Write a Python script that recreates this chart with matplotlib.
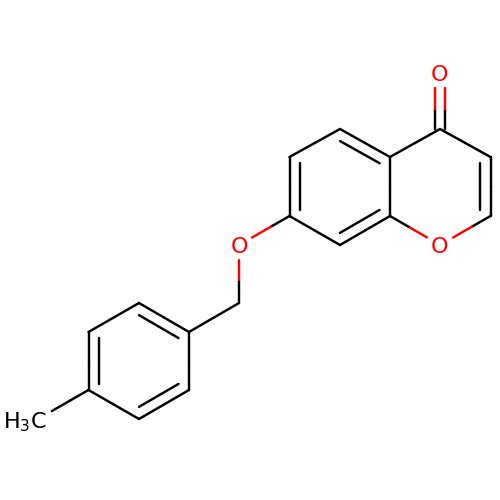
import numpy as np
import matplotlib
matplotlib.use('Agg')
import matplotlib.pyplot as plt

# atom positions
names = ['C4', 'O4', 'C3', 'C2', 'O1', 'C8a', 'C4a', 'C5', 'C6', 'C7', 'C8',
         'O7', 'CH2', 'C1p', 'C2p', 'C3p', 'C4p', 'C5p', 'C6p', 'Me']
atom_x = [440, 440, 490.5, 490.5, 440, 390, 390, 340, 289.5, 289.5, 340,
          239, 239, 189, 139, 88.5, 88.5, 139, 189, 38]
atom_y = [129, 73, 157, 216, 245, 216, 157, 129, 157, 216, 245,
          245, 303, 332, 303, 332, 390, 419, 390, 419]

single_bonds = [('C4', 'C3'), ('C2', 'O1'), ('O1', 'C8a'), ('C8a', 'C4a'), ('C4a', 'C4'),
                ('C5', 'C6'), ('C7', 'C8'), ('C7', 'O7'), ('O7', 'CH2'), ('CH2', 'C1p'),
                ('C1p', 'C6p'), ('C2p', 'C3p'), ('C4p', 'C5p'), ('C4p', 'Me')]
# double bonds, with the ring the inner line sits in
ring_a = ['C4', 'C3', 'C2', 'O1', 'C8a', 'C4a']
ring_b = ['C4a', 'C5', 'C6', 'C7', 'C8', 'C8a']
ring_c = ['C1p', 'C2p', 'C3p', 'C4p', 'C5p', 'C6p']
ring_doubles = [('C3', 'C2', ring_a), ('C4a', 'C5', ring_b), ('C6', 'C7', ring_b),
                ('C8', 'C8a', ring_b), ('C1p', 'C2p', ring_c), ('C3p', 'C4p', ring_c),
                ('C5p', 'C6p', ring_c)]
carbonyl = ('C4', 'O4')

pos = {n: np.array([x, y], dtype=float) for n, x, y in zip(names, atom_x, atom_y)}
oxygens = ['O4', 'O1', 'O7']
RED = '#ff0000'
LW = 1.75
GAP_O = 15.0
GAP_ME = 16.0


def seg(ax, p, q, color):
    ax.plot([p[0], q[0]], [p[1], q[1]], color=color, lw=LW, solid_capstyle='round', zorder=2)


def bond(ax, p, q, a, b):
    # trim the end at a labelled atom, then colour each half by its atom
    u = (q - p) / np.linalg.norm(q - p)
    pa, qb = p.copy(), q.copy()
    if a in oxygens:
        pa = p + u * GAP_O
    if b in oxygens:
        qb = q - u * GAP_O
    if b == 'Me':
        qb = q - u * GAP_ME
    mid = (pa + qb) / 2
    seg(ax, pa, mid, RED if a in oxygens else 'black')
    seg(ax, mid, qb, RED if b in oxygens else 'black')


plt.rcParams['mathtext.default'] = 'regular'

fig = plt.figure(figsize=(5, 5), dpi=100)
ax = fig.add_axes([0, 0, 1, 1])
ax.set_xlim(0, 500)
ax.set_ylim(500, 0)
ax.axis('off')

for a, b in single_bonds:
    bond(ax, pos[a], pos[b], a, b)

for a, b, ring in ring_doubles:
    p, q = pos[a], pos[b]
    bond(ax, p, q, a, b)
    c = np.mean([pos[n] for n in ring], axis=0)
    u = (q - p) / np.linalg.norm(q - p)
    n = np.array([-u[1], u[0]])
    if np.dot(c - p, n) < 0:
        n = -n
    seg(ax, p + n * 10.5 + u * 6, q + n * 10.5 - u * 6, 'black')

a, b = carbonyl
for off in [-5, 5]:
    shift = np.array([off, 0])
    bond(ax, pos[a] + shift, pos[b] + shift, a, b)

# baseline alignment, so the glyphs sit on the atom centres
for n in oxygens:
    ax.text(pos[n][0], pos[n][1] + 8, 'O', color=RED, fontsize=16, ha='center', va='baseline',
            family='DejaVu Sans', zorder=3)

ax.text(3, 428, 'H$_3$C', color='black', fontsize=16, ha='left', va='baseline',
        family='DejaVu Sans', zorder=3)

fig.savefig('out.png', dpi=100, facecolor='white')
